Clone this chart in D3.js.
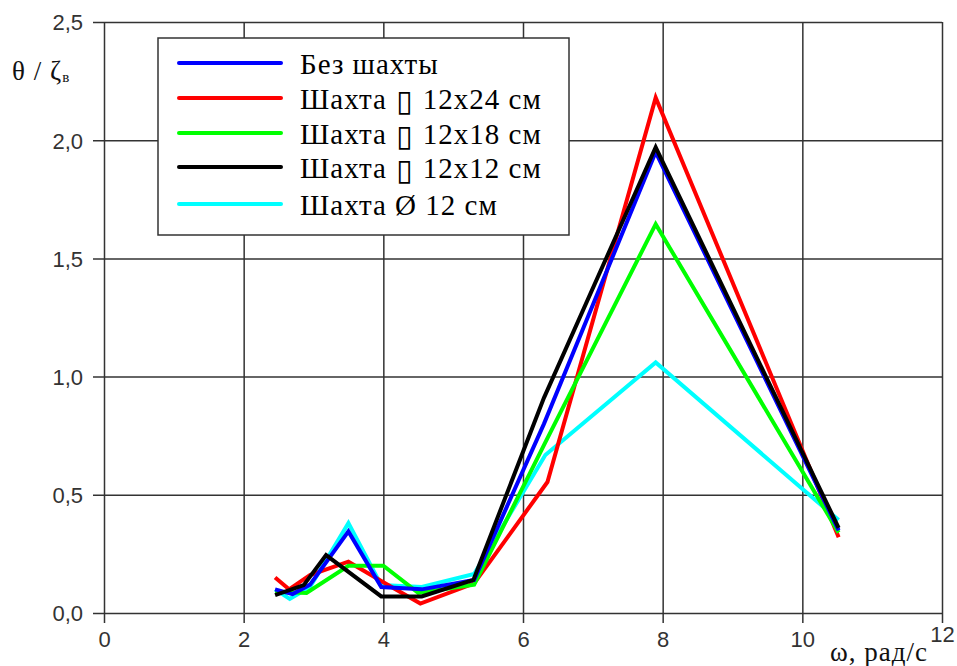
<!DOCTYPE html>
<html>
<head>
<meta charset="utf-8">
<script src="https://cdn.jsdelivr.net/npm/d3@7"></script>
<style>
  html, body { margin: 0; padding: 0; background: #fff; }
  svg { display: block; }
</style>
</head>
<body>
<svg id="chart" width="957" height="666"></svg>
<script>
// Frequency (rad/s) for each series
const xNoShaft   = [2.45, 2.7, 2.95, 3.5, 3.97, 4.55, 5.3, 6.3, 7.9, 10.52];
const x12x24     = [2.45, 2.65, 2.95, 3.5, 4.0, 4.53, 5.3, 6.35, 7.9, 10.52];
const x12x18     = [2.45, 2.9, 3.5, 4.0, 4.5, 5.3, 6.3, 7.9, 10.52];
const x12x12     = [2.45, 2.86, 3.18, 3.97, 4.55, 5.29, 6.3, 7.9, 10.52];
const xRound12   = [2.45, 2.66, 2.95, 3.5, 3.97, 4.55, 5.3, 6.32, 7.9, 10.52];

// Response ratio θ / ζв for each series
const yNoShaft   = [0.10, 0.08, 0.12, 0.345, 0.11, 0.10, 0.14, 0.80, 1.95, 0.35];
const y12x24     = [0.15, 0.10, 0.16, 0.217, 0.13, 0.04, 0.125, 0.554, 2.18, 0.32];
const y12x18     = [0.09, 0.085, 0.20, 0.20, 0.085, 0.12, 0.71, 1.645, 0.34];
const y12x12     = [0.076, 0.118, 0.245, 0.07, 0.07, 0.14, 0.91, 1.97, 0.36];
const yRound12   = [0.10, 0.06, 0.11, 0.38, 0.118, 0.11, 0.165, 0.668, 1.06, 0.393];

// Legend entries: text before the section symbol, the symbol, text after it
const seriesLabels = [
  ["Без шахты", "", ""],
  ["Шахта ", "\u25AF", " 12x24 см"],
  ["Шахта ", "\u25AF", " 12x18 см"],
  ["Шахта ", "\u25AF", " 12x12 см"],
  ["Шахта ", "", "Ø 12 см"]
];
const seriesColors = ["#0000ff", "#ff0000", "#00ff00", "#000000", "#00ffff"];

const xTicks = [0, 2, 4, 6, 8, 10, 12];
const yTicks = [0, 0.5, 1.0, 1.5, 2.0, 2.5];

const series = [
  { label: seriesLabels[0], color: seriesColors[0], xs: xNoShaft, ys: yNoShaft },
  { label: seriesLabels[1], color: seriesColors[1], xs: x12x24,   ys: y12x24 },
  { label: seriesLabels[2], color: seriesColors[2], xs: x12x18,   ys: y12x18 },
  { label: seriesLabels[3], color: seriesColors[3], xs: x12x12,   ys: y12x12 },
  { label: seriesLabels[4], color: seriesColors[4], xs: xRound12, ys: yRound12 }
];

const svg = d3.select("#chart");
const x = d3.scaleLinear().domain([0, 12]).range([104, 942]);
const y = d3.scaleLinear().domain([0, 2.5]).range([613, 22]);
const gridColor = "#333";
const fmt = d => d3.format(".1f")(d).replace(".", ",");
const sans = "'Liberation Sans', Arial, sans-serif";
const serif = "'Liberation Serif', 'Times New Roman', serif";

// Grid with outward tick stubs
const yAxis = d3.axisLeft(y).tickValues(yTicks).tickSize(-(x(12) - x(0))).tickFormat(fmt);
const gy = svg.append("g").attr("transform", `translate(${x(0)},0)`).call(yAxis);
gy.select(".domain").remove();
gy.selectAll(".tick line").attr("x1", -11).attr("stroke", gridColor).attr("stroke-width", 1.5);
gy.selectAll(".tick text")
  .attr("font-family", sans).attr("font-size", 22).attr("fill", "#333")
  .attr("x", -21).attr("dy", "0.36em");

const xAxis = d3.axisBottom(x).tickValues(xTicks).tickSize(-(y(0) - y(2.5))).tickFormat(d3.format("d"));
const gx = svg.append("g").attr("transform", `translate(0,${y(0)})`).call(xAxis);
gx.select(".domain").remove();
gx.selectAll(".tick line").attr("y1", 10).attr("stroke", gridColor).attr("stroke-width", 1.5);
gx.selectAll(".tick text")
  .attr("font-family", sans).attr("font-size", 22).attr("fill", "#333")
  .attr("y", d => d === 12 ? 13 : 18);

// Data lines
const line = d3.line().x(d => x(d[0])).y(d => y(d[1]));
const drawOrder = [4, 1, 2, 0, 3];
drawOrder.forEach(i => {
  const s = series[i];
  svg.append("path")
    .datum(s.xs.map((v, k) => [v, s.ys[k]]))
    .attr("d", line)
    .attr("fill", "none")
    .attr("stroke", s.color)
    .attr("stroke-width", 4)
    .attr("stroke-linejoin", "miter");
});

// Legend
const lg = svg.append("g");
lg.append("rect").attr("x", 158).attr("y", 38).attr("width", 411).attr("height", 197)
  .attr("fill", "#fff").attr("stroke", gridColor).attr("stroke-width", 1.5);
const legendY = [63, 98, 133, 167, 204];
series.forEach((s, i) => {
  lg.append("line").attr("x1", 179).attr("x2", 281).attr("y1", legendY[i]).attr("y2", legendY[i])
    .attr("stroke", s.color).attr("stroke-width", 4).attr("stroke-linecap", "round");
  const t = lg.append("text").attr("x", 300).attr("y", legendY[i] + 11)
    .attr("font-family", serif).attr("font-size", 29).attr("letter-spacing", 1)
    .attr("fill", "#000");
  t.append("tspan").text(s.label[0]);
  if (s.label[1]) {
    // tall rectangle symbol for square shaft section
    t.append("tspan").attr("font-family", "'DejaVu Sans', sans-serif")
      .attr("font-size", 30).attr("dx", 1).attr("dy", 2).attr("letter-spacing", 0).text(s.label[1]);
    t.append("tspan").attr("dx", 2).attr("dy", -2).text(s.label[2]);
  } else {
    t.append("tspan").text(s.label[2]);
  }
});

// Axis titles
const yt = svg.append("text").attr("x", 12).attr("y", 80)
  .attr("font-family", serif).attr("font-size", 27).attr("letter-spacing", 1).attr("fill", "#111");
yt.append("tspan").text("θ / ζ");
yt.append("tspan").attr("font-size", 15).attr("dy", 2).text("в");

svg.append("text").attr("x", 830).attr("y", 661)
  .attr("font-family", serif).attr("font-size", 27).attr("letter-spacing", 1).attr("fill", "#111")
  .text("ω, рад/с");
</script>
</body>
</html>
